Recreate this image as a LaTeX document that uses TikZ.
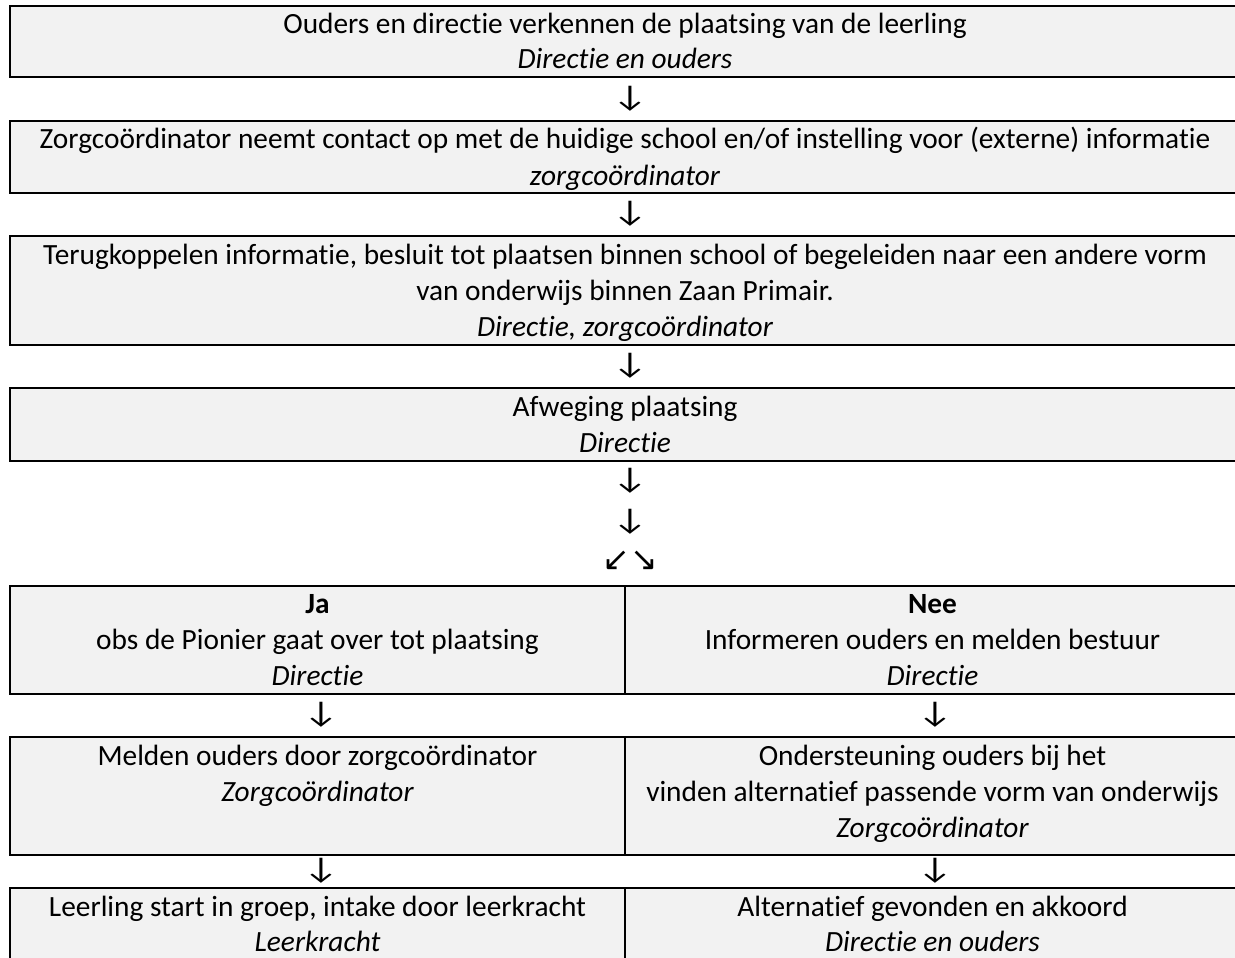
\documentclass[tikz,border=0pt]{standalone}
\usepackage{fontspec}
\usepackage{graphicx}
\setmainfont{Carlito}[Ligatures=NoCommon]
\newfontfamily\arrowfont{DejaVu Sans}
\definecolor{cellgray}{HTML}{F2F2F2}
\newcommand{\downarr}{\scalebox{1.3}[1]{↓}}
\begin{document}
\begin{tikzpicture}[x=0.5pt,y=-0.5pt,
  cell/.style={draw=black,line width=1pt,fill=cellgray},
  txt/.style={anchor=base,inner sep=0pt,font=\fontsize{14.67}{18}\selectfont},
  arr/.style={anchor=center,inner sep=0pt,font=\fontsize{15}{18}\selectfont},
  darr/.style={anchor=center,inner sep=0pt,font=\arrowfont\fontsize{16.5}{20}\selectfont}]
\useasboundingbox (0,0) rectangle (1235,957);
\clip (0,0) rectangle (1235,957);
% boxes
\draw[cell] (10,6) rectangle (1240,77);
\draw[cell] (10,121) rectangle (1240,193);
\draw[cell] (10,236) rectangle (1240,345);
\draw[cell] (10,388) rectangle (1240,461);
\draw[cell] (10,586) rectangle (625,694);
\draw[cell] (625,586) rectangle (1240,694);
\draw[cell] (10,737) rectangle (625,855);
\draw[cell] (625,737) rectangle (1240,855);
\draw[cell] (10,888) rectangle (625,980);
\draw[cell] (625,888) rectangle (1240,980);
% box 1
\node[txt] (t1a) at (625,34) {Ouders en directie verkennen de plaatsing van de leerling};
\node[txt] (t1b) at (625,69) {\itshape Directie en ouders};
\node[arr] (a1) at (630,99) {\downarr};
% box 2
\node[txt] (t2a) at (625,149) {Zorgcoördinator neemt contact op met de huidige school en/of instelling voor (externe) informatie};
\node[txt] (t2b) at (625,185) {\itshape zorgcoördinator};
\node[arr] (a2) at (630,214) {\downarr};
% box 3
\node[txt] (t3a) at (625,264) {Terugkoppelen informatie, besluit tot plaatsen binnen school of begeleiden naar een andere vorm};
\node[txt] (t3b) at (625,300) {van onderwijs binnen Zaan Primair.};
\node[txt] (t3c) at (625,336) {\itshape Directie, zorgcoördinator};
\node[arr] (a3) at (630,366) {\downarr};
% box 4
\node[txt] (t4a) at (625,416) {Afweging plaatsing};
\node[txt] (t4b) at (625,452) {\itshape Directie};
\node[arr] (a4) at (630,481) {\downarr};
\node[arr] (a5) at (630,522) {\downarr};
\node[darr] (a6) at (630,561) {↙↘};
% box 5
\node[txt] (t5a) at (317.5,613) {\bfseries Ja};
\node[txt] (t5b) at (317.5,649) {obs de Pionier gaat over tot plaatsing};
\node[txt] (t5c) at (317.5,685) {\itshape Directie};
\node[txt] (t5d) at (932.5,613) {\bfseries Nee};
\node[txt] (t5e) at (932.5,649) {Informeren ouders en melden bestuur};
\node[txt] (t5f) at (932.5,685) {\itshape Directie};
\node[arr] (a7) at (321,715) {\downarr};
\node[arr] (a8) at (935,715) {\downarr};
% box 6
\node[txt] (t6a) at (317.5,765) {Melden ouders door zorgcoördinator};
\node[txt] (t6b) at (317.5,801) {\itshape Zorgcoördinator};
\node[txt] (t6c) at (932.5,765) {Ondersteuning ouders bij het};
\node[txt] (t6d) at (932.5,801) {vinden alternatief passende vorm van onderwijs};
\node[txt] (t6e) at (932.5,837) {\itshape Zorgcoördinator};
\node[arr] (a9) at (321,871) {\downarr};
\node[arr] (a10) at (935,871) {\downarr};
% box 7
\node[txt] (t7a) at (317.5,916) {Leerling start in groep, intake door leerkracht};
\node[txt] (t7b) at (317.5,951) {\itshape Leerkracht};
\node[txt] (t7c) at (932.5,916) {Alternatief gevonden en akkoord};
\node[txt] (t7d) at (932.5,951) {\itshape Directie en ouders};
\end{tikzpicture}
\end{document}
